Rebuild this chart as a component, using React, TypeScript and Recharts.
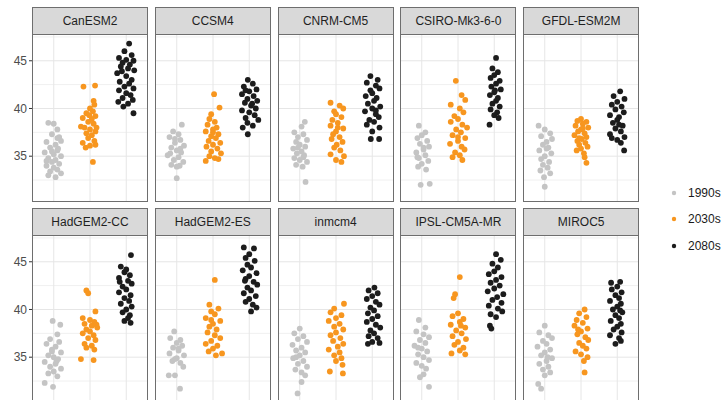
import React from "react";
import { ReferenceLine, Scatter, ScatterChart, XAxis, YAxis } from "recharts";

// Each point is [jitter offset from its period's slot, value].
const periods = ["1990s", "2030s", "2080s"];
const periodColors = ["#c4c4c4", "#f7961f", "#1c1c1c"];

const canESM2_1990 = [[-0.15,38.5],[0.0,38.4],[0.1,37.8],[-0.05,37.3],[0.15,37.0],[0.2,36.6],[-0.2,36.5],[0.05,36.2],[-0.1,35.9],[0.1,35.6],[-0.25,35.4],[0.0,35.2],[0.2,35.0],[-0.15,34.8],[0.05,34.6],[-0.05,34.4],[0.15,34.2],[-0.2,34.0],[0.0,33.8],[0.1,33.6],[-0.1,33.4],[0.2,33.2],[-0.15,33.0],[0.05,32.8],[-0.05,35.5],[0.1,36.9],[-0.2,34.5],[0.12,35.8]];
const canESM2_2030 = [[-0.18,42.3],[0.14,42.4],[0.1,40.8],[0.12,40.4],[0.0,40.0],[0.08,39.7],[-0.1,39.5],[0.15,39.2],[-0.2,39.0],[0.05,38.9],[-0.05,38.6],[0.1,38.4],[-0.25,38.1],[-0.15,38.0],[0.0,37.8],[0.15,37.6],[-0.1,37.4],[0.05,37.2],[-0.05,36.9],[0.12,36.6],[-0.2,36.4],[0.0,36.1],[0.15,36.2],[-0.12,35.9],[0.08,34.4],[-0.02,39.3],[0.18,38.0]];
const canESM2_2080 = [[0.08,46.8],[-0.05,46.0],[0.15,45.6],[-0.2,45.3],[0.0,45.1],[0.2,45.0],[-0.1,44.8],[0.1,44.6],[-0.15,44.4],[0.05,44.2],[0.22,44.0],[-0.25,43.7],[0.0,43.4],[0.15,43.0],[-0.18,42.8],[0.08,42.6],[-0.05,42.3],[0.2,42.1],[-0.2,41.9],[0.0,41.6],[0.12,41.4],[-0.1,41.1],[0.18,40.9],[-0.22,40.7],[0.05,40.5],[-0.08,40.2],[0.2,39.5],[-0.12,43.9]];

const ccsm4_1990 = [[0.14,38.3],[-0.1,37.6],[0.05,37.3],[-0.2,37.0],[0.1,36.7],[-0.05,36.4],[0.2,36.1],[-0.15,35.9],[0.0,35.6],[0.12,35.4],[-0.25,35.1],[0.05,34.9],[-0.08,34.6],[0.18,34.4],[-0.15,34.1],[0.0,33.9],[0.1,35.8],[-0.05,36.8],[0.0,32.7],[-0.18,35.3],[0.08,34.0]];
const ccsm4_2030 = [[0.03,41.5],[0.18,40.1],[-0.05,39.4],[-0.1,38.9],[0.05,38.6],[-0.15,38.3],[0.1,38.0],[0.0,37.8],[-0.2,37.6],[0.15,37.3],[-0.05,37.1],[0.08,36.9],[-0.12,36.6],[0.2,36.4],[0.0,36.2],[-0.18,36.0],[0.12,35.8],[-0.05,35.5],[0.22,35.3],[-0.1,35.0],[0.05,34.8],[-0.2,34.5],[0.15,34.7],[0.0,37.5]];
const ccsm4_2080 = [[-0.04,43.0],[0.1,42.6],[-0.15,42.3],[0.2,42.0],[0.0,41.8],[-0.2,41.5],[0.12,41.3],[-0.05,41.0],[0.22,40.8],[-0.12,40.6],[0.05,40.3],[0.18,40.0],[-0.2,39.8],[0.0,39.6],[0.15,39.3],[-0.1,39.0],[0.25,38.8],[-0.05,38.5],[0.1,38.2],[-0.18,38.0],[-0.04,37.3],[0.08,40.5],[-0.1,41.9]];

const cnrm_1990 = [[0.14,38.6],[0.05,38.1],[-0.15,37.5],[0.1,37.3],[-0.05,37.0],[0.2,36.7],[-0.1,36.5],[0.0,36.2],[0.15,36.0],[-0.18,35.8],[0.05,35.5],[-0.08,35.3],[0.12,35.1],[-0.15,34.8],[0.0,34.6],[0.2,34.4],[-0.1,34.1],[0.08,33.9],[0.16,32.3],[-0.05,35.9],[0.1,34.9]];
const cnrm_2030 = [[-0.15,40.6],[0.1,40.3],[0.2,40.0],[-0.05,39.7],[0.0,39.4],[0.15,39.1],[-0.1,38.8],[0.05,38.5],[-0.15,38.2],[0.2,37.9],[0.0,37.6],[-0.08,37.3],[0.1,37.0],[-0.12,36.8],[0.18,36.5],[0.02,36.2],[-0.05,35.9],[0.12,35.6],[-0.15,35.2],[0.22,35.0],[0.0,34.6],[0.15,34.4],[0.05,38.0]];
const cnrm_2080 = [[-0.05,43.4],[0.15,43.0],[-0.15,42.7],[0.1,42.4],[0.2,42.1],[-0.05,41.9],[0.0,41.6],[-0.18,41.3],[0.12,41.1],[0.05,40.8],[-0.12,40.5],[0.22,40.2],[0.0,40.0],[-0.2,39.7],[0.1,39.4],[0.18,39.1],[-0.08,38.8],[0.05,38.6],[-0.15,38.3],[0.2,38.0],[0.0,37.6],[-0.04,36.8],[0.19,36.8],[0.1,39.8]];

const csiro_1990 = [[-0.08,38.2],[0.1,37.5],[0.0,37.2],[-0.12,36.9],[0.15,36.6],[-0.05,36.3],[0.2,36.0],[0.05,35.7],[-0.15,35.4],[0.1,35.1],[-0.08,34.8],[0.18,34.5],[0.0,34.2],[-0.1,33.9],[0.12,33.6],[-0.03,32.0],[0.22,32.1],[0.05,35.9],[-0.12,34.9]];
const csiro_2030 = [[-0.06,42.9],[0.1,41.4],[0.2,40.9],[-0.2,40.4],[0.05,40.0],[0.15,39.6],[-0.1,39.2],[0.0,38.9],[-0.2,38.6],[0.12,38.3],[0.25,38.0],[-0.05,37.8],[0.08,37.5],[-0.15,37.2],[0.2,36.9],[0.0,36.6],[-0.22,36.3],[0.1,36.0],[0.18,35.7],[-0.08,35.4],[0.05,35.1],[-0.15,34.9],[0.12,34.6],[0.0,37.0]];
const csiro_2080 = [[0.05,45.3],[-0.05,44.2],[0.1,43.8],[0.0,43.5],[-0.1,43.2],[0.15,42.9],[0.05,42.6],[-0.08,42.3],[0.18,42.0],[0.0,41.7],[-0.12,41.4],[0.1,41.1],[0.05,40.8],[-0.05,40.5],[0.15,40.2],[-0.1,39.9],[0.08,39.6],[0.0,39.3],[0.12,39.0],[-0.13,38.3],[0.02,41.9]];

const gfdl_1990 = [[-0.17,38.2],[0.0,37.8],[0.15,37.4],[-0.1,37.1],[0.2,36.8],[0.05,36.5],[-0.05,36.2],[0.1,35.9],[-0.15,35.6],[0.18,35.3],[0.0,35.0],[-0.1,34.7],[0.12,34.4],[-0.05,34.1],[0.08,33.8],[-0.12,33.5],[0.15,33.2],[-0.02,32.8],[0.0,31.8],[0.05,35.8]];
const gfdl_2030 = [[0.0,38.9],[-0.1,38.7],[0.15,38.6],[0.05,38.4],[-0.15,38.2],[0.2,38.0],[0.0,37.8],[-0.08,37.6],[0.1,37.4],[-0.18,37.2],[0.15,37.0],[0.02,36.8],[-0.1,36.6],[0.12,36.4],[-0.05,36.2],[0.18,36.0],[0.0,35.8],[-0.12,35.6],[0.08,35.3],[0.1,34.9],[0.15,34.3],[0.05,37.9],[-0.05,36.9]];
const gfdl_2080 = [[0.08,41.8],[-0.1,41.3],[0.2,41.0],[0.0,40.7],[-0.15,40.4],[0.12,40.2],[-0.05,39.9],[0.18,39.6],[-0.2,39.3],[0.05,39.1],[0.0,38.8],[-0.12,38.5],[0.15,38.2],[-0.05,37.9],[0.1,37.6],[-0.2,37.3],[0.2,37.0],[0.0,36.7],[0.1,36.4],[-0.15,36.9],[0.19,35.6],[0.05,38.3]];

const hadCC_1990 = [[-0.03,38.8],[0.18,38.4],[0.1,37.4],[-0.1,36.9],[0.15,36.6],[-0.2,36.4],[0.05,36.1],[-0.05,35.8],[0.2,35.5],[-0.15,35.2],[0.0,35.0],[0.12,34.8],[-0.25,34.5],[0.05,34.3],[-0.1,34.0],[0.2,33.8],[0.0,33.5],[-0.15,33.3],[0.1,33.0],[-0.25,32.3],[-0.02,31.9],[0.08,34.6],[-0.05,35.6]];
const hadCC_2030 = [[-0.1,42.0],[-0.05,41.7],[0.15,39.8],[-0.2,39.1],[0.0,38.9],[0.12,38.7],[-0.15,38.5],[0.05,38.3],[0.2,38.1],[-0.1,37.9],[0.0,37.7],[-0.2,37.5],[0.1,37.3],[-0.05,37.0],[0.15,36.8],[-0.15,36.4],[0.05,36.2],[-0.1,36.0],[0.12,35.8],[-0.25,34.8],[0.1,34.7],[0.18,38.4]];
const hadCC_2080 = [[0.13,45.7],[-0.15,44.5],[0.0,44.2],[-0.05,43.9],[0.1,43.6],[-0.2,43.3],[0.05,43.0],[0.15,42.7],[-0.1,42.4],[0.0,42.1],[-0.2,41.8],[0.12,41.5],[-0.05,41.2],[0.08,40.9],[-0.15,40.6],[0.15,40.3],[0.0,40.0],[-0.1,39.7],[0.1,39.4],[0.05,39.1],[-0.05,38.8],[0.12,38.6],[-0.18,42.9]];

const hadES_1990 = [[-0.07,37.7],[-0.18,37.0],[0.1,36.8],[0.0,36.5],[0.15,36.2],[-0.1,36.0],[0.05,35.7],[-0.2,35.4],[0.2,35.2],[0.0,34.9],[-0.12,34.6],[0.1,34.4],[0.18,34.0],[-0.05,34.8],[-0.22,33.1],[-0.05,33.1],[0.09,31.7],[0.05,35.9]];
const hadES_2030 = [[0.05,43.1],[-0.1,40.5],[0.15,40.1],[-0.05,39.8],[0.05,39.5],[-0.2,39.1],[0.2,38.8],[0.0,38.5],[-0.1,38.2],[0.1,37.9],[-0.15,37.6],[0.05,37.3],[0.2,37.0],[-0.05,36.7],[-0.2,36.4],[0.12,36.2],[0.0,35.9],[-0.12,35.6],[0.25,35.4],[0.08,35.2],[-0.05,38.9]];
const hadES_2080 = [[-0.15,46.5],[0.13,46.4],[0.0,45.8],[-0.1,45.4],[0.15,45.1],[-0.05,44.7],[0.05,44.4],[-0.18,44.1],[0.2,43.8],[0.0,43.5],[-0.1,43.2],[0.12,42.9],[0.22,42.6],[-0.05,42.3],[0.05,42.0],[-0.15,41.7],[0.18,41.4],[0.0,41.1],[-0.1,40.8],[0.1,40.5],[0.2,40.2],[0.05,39.8],[-0.12,43.0]];

const inmcm4_1990 = [[0.0,38.0],[-0.15,37.5],[0.1,37.2],[-0.05,36.9],[0.2,36.6],[-0.2,36.3],[0.05,36.0],[-0.1,35.7],[0.15,35.5],[0.0,35.2],[-0.18,34.9],[0.1,34.6],[-0.05,34.3],[0.2,34.0],[-0.12,33.7],[0.05,33.4],[0.15,33.1],[0.05,32.4],[-0.06,31.2],[-0.1,35.0]];
const inmcm4_2030 = [[0.22,40.6],[-0.05,40.1],[-0.15,39.7],[0.15,39.4],[0.0,39.1],[-0.2,38.8],[0.1,38.5],[-0.05,38.2],[0.2,37.9],[0.0,37.6],[-0.15,37.3],[0.12,37.0],[-0.08,36.7],[0.2,36.4],[0.05,36.1],[-0.2,35.8],[0.1,35.5],[-0.05,35.2],[0.15,34.9],[0.0,34.6],[0.18,34.2],[-0.17,33.5],[0.19,33.3]];
const inmcm4_2080 = [[0.06,42.3],[-0.1,42.0],[0.15,41.7],[0.0,41.4],[-0.15,41.1],[0.1,40.8],[0.2,40.5],[-0.05,40.2],[0.05,39.9],[-0.12,39.6],[0.15,39.3],[0.0,39.0],[-0.15,38.7],[0.1,38.4],[0.22,38.1],[-0.05,37.8],[0.05,37.5],[-0.1,37.2],[0.15,37.0],[-0.12,36.4],[0.0,36.6],[0.2,36.5]];

const ipsl_1990 = [[-0.08,38.9],[0.1,38.1],[-0.15,37.7],[0.05,37.4],[0.2,37.1],[-0.05,36.8],[0.1,36.5],[-0.2,36.2],[0.0,35.9],[0.15,35.6],[-0.1,35.3],[0.05,35.0],[0.2,34.7],[-0.15,34.4],[0.0,34.1],[0.12,33.8],[-0.05,32.9],[0.05,33.2],[0.2,31.9],[-0.1,36.0]];
const ipsl_2030 = [[0.05,43.4],[-0.08,41.6],[-0.12,41.2],[0.0,39.6],[-0.15,39.3],[0.15,39.0],[0.05,38.7],[-0.2,38.4],[0.2,38.1],[-0.05,37.8],[0.1,37.5],[-0.15,37.2],[0.22,36.9],[0.0,36.6],[-0.1,36.3],[0.15,36.0],[0.05,35.7],[-0.18,35.4],[0.2,35.3],[0.08,38.3]];
const ipsl_2080 = [[0.05,45.8],[0.18,45.2],[-0.05,44.8],[0.1,44.4],[0.0,44.0],[-0.15,43.7],[0.2,43.4],[0.05,43.1],[-0.1,42.8],[0.15,42.5],[0.0,42.2],[-0.18,41.9],[0.25,41.6],[0.08,41.3],[-0.05,41.0],[0.2,40.7],[-0.15,40.4],[0.1,40.1],[0.22,39.8],[-0.1,39.5],[0.05,39.2],[-0.12,38.3],[-0.08,38.0]];

const miroc5_1990 = [[0.0,38.3],[-0.15,37.6],[0.1,37.3],[0.2,37.0],[-0.05,36.7],[0.05,36.4],[-0.2,36.1],[0.15,35.8],[0.0,35.5],[-0.1,35.2],[0.2,34.9],[0.05,34.6],[-0.15,34.3],[0.1,34.0],[-0.05,33.7],[0.15,33.4],[0.0,33.1],[-0.18,32.2],[-0.1,31.7],[0.08,35.0]];
const miroc5_2030 = [[0.1,40.0],[-0.05,39.6],[0.15,39.2],[-0.12,38.9],[0.05,38.6],[-0.18,38.3],[0.18,38.0],[0.0,37.7],[-0.1,37.4],[0.12,37.1],[0.2,36.8],[-0.05,36.5],[0.05,36.2],[0.15,35.9],[-0.15,35.6],[0.0,35.3],[0.18,35.0],[0.08,34.6],[0.1,33.4],[-0.08,37.9]];
const miroc5_2080 = [[-0.17,42.8],[0.08,42.9],[0.0,42.4],[-0.15,42.1],[0.12,41.8],[-0.05,41.5],[0.05,41.2],[-0.2,40.9],[0.1,40.6],[0.0,40.3],[-0.12,40.0],[0.14,39.7],[-0.05,39.4],[0.05,39.1],[-0.18,38.8],[0.1,38.5],[0.0,38.2],[-0.1,37.9],[0.12,37.6],[-0.2,37.3],[0.05,37.0],[0.1,36.7],[-0.05,36.4],[0.08,39.9]];

const models = [
  { name: "CanESM2", series: [canESM2_1990, canESM2_2030, canESM2_2080] },
  { name: "CCSM4", series: [ccsm4_1990, ccsm4_2030, ccsm4_2080] },
  { name: "CNRM-CM5", series: [cnrm_1990, cnrm_2030, cnrm_2080] },
  { name: "CSIRO-Mk3-6-0", series: [csiro_1990, csiro_2030, csiro_2080] },
  { name: "GFDL-ESM2M", series: [gfdl_1990, gfdl_2030, gfdl_2080] },
  { name: "HadGEM2-CC", series: [hadCC_1990, hadCC_2030, hadCC_2080] },
  { name: "HadGEM2-ES", series: [hadES_1990, hadES_2030, hadES_2080] },
  { name: "inmcm4", series: [inmcm4_1990, inmcm4_2030, inmcm4_2080] },
  { name: "IPSL-CM5A-MR", series: [ipsl_1990, ipsl_2030, ipsl_2080] },
  { name: "MIROC5", series: [miroc5_1990, miroc5_2030, miroc5_2080] },
];

const yTicks = [35, 40, 45];
const yMinor = [32.5, 37.5, 42.5, 47.5];
const yDomain: [number, number] = [30.2, 47.7];

const FONT = "'Liberation Sans', Arial, sans-serif";
const PANEL_W = 116;
const PANEL_H = 167;
const STRIP_H = 28;
const AXIS_W = 32;
const COL_PITCH = 122.8;
const ROW_TOPS = [7, 208];
const BORDER = "#6e6e6e";

function Panel({ name, series, col, row }: { name: string; series: number[][][]; col: number; row: number }) {
  const left = AXIS_W + col * COL_PITCH;
  const top = ROW_TOPS[row];
  const withAxis = col === 0;
  const chartW = withAxis ? PANEL_W + AXIS_W : PANEL_W;

  return (
    <>
      <div
        style={{
          position: "absolute",
          left,
          top,
          width: PANEL_W,
          height: STRIP_H,
          boxSizing: "border-box",
          background: "#d9d9d9",
          border: `1px solid ${BORDER}`,
          display: "flex",
          alignItems: "center",
          justifyContent: "center",
          fontSize: 12,
          color: "#1f1f1f",
        }}
      >
        {name}
      </div>
      <div style={{ position: "absolute", left: withAxis ? 0 : left, top: top + STRIP_H }}>
        <ScatterChart width={chartW} height={PANEL_H} margin={{ top: 0, right: 0, bottom: 0, left: 0 }}>
          <XAxis type="number" dataKey="x" domain={[0.4, 3.6]} hide allowDataOverflow />
          <YAxis
            type="number"
            dataKey="y"
            domain={yDomain}
            allowDataOverflow
            hide={!withAxis}
            width={AXIS_W}
            ticks={yTicks}
            axisLine={false}
            tickSize={3}
            tickMargin={2}
            tickLine={{ stroke: "#333" }}
            tick={{ fill: "#4d4d4d", fontSize: 12, fontFamily: FONT }}
          />
          {yMinor.map((v) => (
            <ReferenceLine key={`m${v}`} y={v} stroke="#f0f0f0" strokeWidth={1} />
          ))}
          {yTicks.map((v) => (
            <ReferenceLine key={`y${v}`} y={v} stroke="#e6e6e6" strokeWidth={1} />
          ))}
          {[1, 2, 3].map((v) => (
            <ReferenceLine key={`x${v}`} x={v} stroke="#e6e6e6" strokeWidth={1} />
          ))}
          {series.map((pts, i) => (
            <Scatter
              key={periods[i]}
              name={periods[i]}
              data={pts.map(([dx, y]) => ({ x: i + 1 + dx, y }))}
              isAnimationActive={false}
              shape={(p: any) => <circle cx={p.cx} cy={p.cy} r={2.9} fill={periodColors[i]} />}
            />
          ))}
        </ScatterChart>
      </div>
      <div
        style={{
          position: "absolute",
          left,
          top: top + STRIP_H - 1,
          width: PANEL_W,
          height: PANEL_H + 1,
          boxSizing: "border-box",
          border: `1px solid ${BORDER}`,
          pointerEvents: "none",
        }}
      />
    </>
  );
}

function Legend() {
  const rows = [193, 219, 246];
  return (
    <>
      {periods.map((p, i) => (
        <div key={p} style={{ position: "absolute", left: 670, top: rows[i] - 8, height: 16, display: "flex", alignItems: "center" }}>
          <svg width={8} height={8} style={{ marginRight: 10 }}>
            <circle cx={4} cy={4} r={2.2} fill={periodColors[i]} />
          </svg>
          <span style={{ fontSize: 12, color: "#1a1a1a" }}>{p}</span>
        </div>
      ))}
    </>
  );
}

export default function App() {
  return (
    <div
      style={{
        position: "absolute",
        left: 0,
        top: 0,
        width: 724,
        height: 400,
        overflow: "hidden",
        background: "#fff",
        fontFamily: FONT,
      }}
    >
      {models.map((m, k) => (
        <Panel key={m.name} name={m.name} series={m.series} col={k % 5} row={Math.floor(k / 5)} />
      ))}
      <Legend />
    </div>
  );
}
